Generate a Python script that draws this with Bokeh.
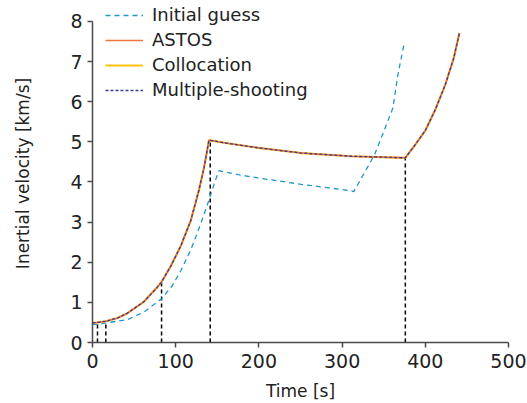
from bokeh.plotting import figure
from bokeh.models import Range1d, Legend, LegendItem, FixedTicker
from bokeh.embed import file_html
from bokeh.resources import INLINE

# ---- data ----
guess_t = [0, 6, 20, 42, 62, 83, 96, 106, 118, 130, 140, 147, 152, 175, 199, 251, 300, 314, 331, 339, 353, 361, 367, 375]
guess_v = [0.45, 0.46, 0.50, 0.57, 0.76, 1.09, 1.42, 1.78, 2.30, 2.95, 3.55, 4.00, 4.28, 4.18, 4.10, 3.94, 3.81, 3.76, 4.38, 4.68, 5.41, 5.84, 6.66, 7.49]

astos_t = [0, 6, 16, 30, 42, 62, 78, 83, 94, 106, 118, 128, 134, 140, 160, 199, 251, 311, 376, 388, 400, 412, 424, 434, 441]
astos_v = [0.49, 0.50, 0.53, 0.61, 0.73, 1.02, 1.38, 1.51, 1.90, 2.40, 3.03, 3.80, 4.35, 5.04, 4.97, 4.85, 4.72, 4.64, 4.60, 4.93, 5.28, 5.80, 6.42, 7.07, 7.71]

colloc_t = [0, 6, 16, 30, 42, 62, 78, 83, 94, 106, 118, 128, 134, 140, 160, 199, 251, 311, 376, 388, 400, 412, 424, 434, 441]
colloc_v = [0.49, 0.50, 0.53, 0.61, 0.73, 1.02, 1.38, 1.51, 1.90, 2.40, 3.03, 3.80, 4.35, 5.04, 4.97, 4.85, 4.72, 4.64, 4.60, 4.93, 5.28, 5.80, 6.42, 7.07, 7.71]

ms_t = [0, 6, 16, 30, 42, 62, 78, 83, 94, 106, 118, 128, 134, 140, 160, 199, 251, 311, 376, 388, 400, 412, 424, 434, 441]
ms_v = [0.49, 0.50, 0.53, 0.61, 0.73, 1.02, 1.38, 1.51, 1.90, 2.40, 3.03, 3.80, 4.35, 5.04, 4.97, 4.85, 4.72, 4.64, 4.60, 4.93, 5.28, 5.80, 6.42, 7.07, 7.71]

# phase boundaries (vertical dashed markers)
phase_t = [6, 16, 83, 141.5, 376]
phase_v = [0.50, 0.53, 1.51, 5.02, 4.60]

x_ticks = [0, 100, 200, 300, 400, 500]
y_ticks = [0, 1, 2, 3, 4, 5, 6, 7, 8]

FONT = "DejaVu Sans"
AXIS_COL = "#4a4a4a"

p = figure(width=527, height=403, output_backend="svg", toolbar_location=None,
           x_range=Range1d(0, 500), y_range=Range1d(0, 8.42),
           min_border_left=92, min_border_right=19, min_border_top=4, min_border_bottom=60)
p.outline_line_color = None
p.xgrid.visible = False
p.ygrid.visible = False

# vertical dashed phase lines
p.segment(x0=phase_t, y0=[0] * len(phase_t), x1=phase_t, y1=phase_v,
          line_color="black", line_width=1.5, line_dash="4 3")

r_guess = p.line(guess_t, guess_v, line_color="#1E96CC", line_width=1.3, line_dash="5 4")
r_col = p.line(colloc_t, colloc_v, line_color="#FFC20E", line_width=2.2)
r_astos = p.line(astos_t, astos_v, line_color="#EE7440", line_width=1.6)
r_ms = p.line(ms_t, ms_v, line_color="#3B3B96", line_width=1.3, line_dash="3 2")

legend = Legend(items=[
    LegendItem(label="Initial guess", renderers=[r_guess]),
    LegendItem(label="ASTOS", renderers=[r_astos]),
    LegendItem(label="Collocation", renderers=[r_col]),
    LegendItem(label="Multiple-shooting", renderers=[r_ms]),
], location=(13, 242))
legend.border_line_color = None
legend.background_fill_alpha = 0
legend.padding = 0
legend.margin = 0
legend.spacing = 4
legend.glyph_width = 38
legend.glyph_height = 20
legend.label_height = 20
legend.label_standoff = 9
legend.label_text_font = FONT
legend.label_text_font_size = "18px"
legend.label_text_color = "#222222"
p.add_layout(legend, "center")

for ax in (p.xaxis[0], p.yaxis[0]):
    ax.axis_line_color = AXIS_COL
    ax.axis_line_width = 1.5
    ax.major_tick_line_color = AXIS_COL
    ax.major_tick_line_width = 1.5
    ax.major_tick_out = 5
    ax.major_tick_in = 0
    ax.minor_tick_line_color = None
    ax.major_label_text_font = FONT
    ax.major_label_text_font_size = "19px"
    ax.major_label_text_color = "#222222"
    ax.axis_label_text_font = FONT
    ax.axis_label_text_font_size = "17px"
    ax.axis_label_text_font_style = "normal"
    ax.axis_label_text_color = "#222222"

p.xaxis[0].ticker = FixedTicker(ticks=x_ticks)
p.yaxis[0].ticker = FixedTicker(ticks=y_ticks)
p.yaxis[0].bounds = (0, 8)
p.xaxis[0].axis_label = "Time [s]"
p.yaxis[0].axis_label = "Inertial velocity [km/s]"
p.xaxis[0].major_label_standoff = 6
p.yaxis[0].major_label_standoff = 5
p.xaxis[0].axis_label_standoff = 10
p.yaxis[0].axis_label_standoff = 34

open("out.html", "w").write(file_html(p, INLINE))
